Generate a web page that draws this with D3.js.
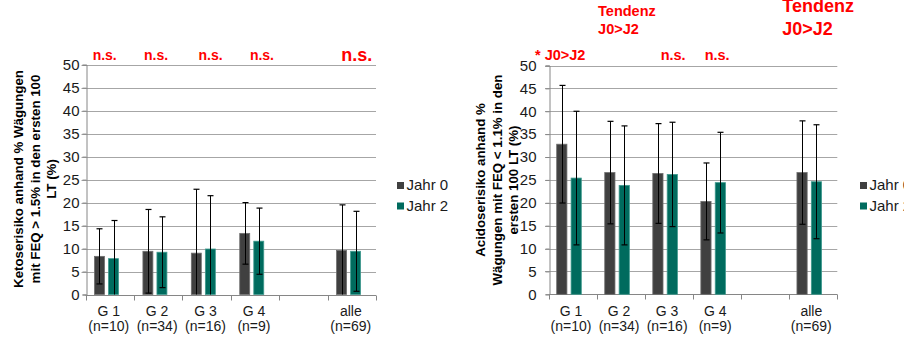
<!DOCTYPE html>
<html><head><meta charset="utf-8">
<script src="https://cdn.jsdelivr.net/npm/d3@7"></script>
<style>
html,body{margin:0;padding:0;background:#fff;}
svg{display:block;font-family:"Liberation Sans",Arial,sans-serif;}
</style></head>
<body><svg id="c" width="904" height="337"></svg>
<script>
// ---- data ----
const categories = ["G 1","G 2","G 3","G 4","","alle"];
const nLabels = ["(n=10)","(n=34)","(n=16)","(n=9)","","(n=69)"];
const seriesNames = ["Jahr 0","Jahr 2"];
const yTicks = [0,5,10,15,20,25,30,35,40,45,50];

// Ketose chart (left)
const ketoJahr0 = [8.3, 9.4, 9.0, 13.3, null, 9.6];
const ketoJahr0Err = [6.0, 9.1, 13.9, 6.7, null, 9.9];
const ketoJahr2 = [7.8, 9.2, 9.9, 11.6, null, 9.4];
const ketoJahr2Err = [8.3, 7.7, 11.6, 7.2, null, 8.7];
const ketoTitle = ["Ketoserisiko anhand % Wägungen","mit FEQ > 1.5% in den ersten 100","LT (%)"];
const ketoNotes = [["n.s."],["n.s."],["n.s."],["n.s."],null,["n.s."]];

// Acidose chart (right)
const acidJahr0 = [32.8, 26.6, 26.4, 20.3, null, 26.6];
const acidJahr0Err = [12.85, 11.2, 10.9, 8.4, null, 11.3];
const acidJahr2 = [25.4, 23.8, 26.2, 24.4, null, 24.6];
const acidJahr2Err = [14.6, 13.0, 11.4, 11.0, null, 12.45];
const acidTitle = ["Acidoserisiko anhand %","Wägungen mit FEQ < 1.1% in den","ersten 100 LT (%)"];
const acidNotes = [["* J0>J2"],["Tendenz","J0>J2"],["n.s."],["n.s."],null,["Tendenz","J0>J2"]];

const colors = ["#404040","#006b5e"];
const strokes = ["#6e6e6e","#3f9a8e"];

const svg = d3.select("#c");

function drawChart(cfg){
  const g = svg.append("g");
  const x = d3.scaleBand().domain(categories).range(cfg.xr).paddingInner(0).paddingOuter(0);
  const xs = d3.scaleBand().domain(seriesNames).range(cfg.inner).paddingInner(0.29).paddingOuter(0);
  const y = d3.scaleLinear().domain([0,50]).range(cfg.yr);

  // gridlines
  g.selectAll("line.grid").data(yTicks.filter(t=>t>0)).join("line")
    .attr("x1",cfg.xr[0]-cfg.tick).attr("x2",cfg.xr[1])
    .attr("y1",d=>Math.round(y(d))+0.5).attr("y2",d=>Math.round(y(d))+0.5)
    .attr("stroke","#a6a6a6").attr("stroke-width",1.2);

  // y axis
  const ya = g.append("g").attr("transform",`translate(${Math.round(cfg.xr[0])+0.5},0)`)
    .call(d3.axisLeft(y).tickValues(yTicks).tickSize(cfg.tick).tickPadding(cfg.pad));
  ya.select(".domain").attr("stroke","#868686");
  ya.selectAll(".tick line").attr("stroke","#868686");
  ya.selectAll(".tick text").attr("font-size",cfg.tickFont).attr("fill","#1a1a1a")
    .attr("font-family","Liberation Sans, Arial, sans-serif");

  // x axis line + boundary ticks
  const y0 = Math.round(y(0))+0.5;
  g.append("line").attr("x1",cfg.xr[0]).attr("x2",cfg.xr[1]).attr("y1",y0).attr("y2",y0)
    .attr("stroke","#868686").attr("stroke-width",1.2);
  const bounds = categories.map(c=>x(c)).concat([cfg.xr[1]]);
  g.selectAll("line.xt").data(bounds).join("line")
    .attr("x1",d=>Math.round(d)+0.5).attr("x2",d=>Math.round(d)+0.5)
    .attr("y1",y0).attr("y2",y0+5).attr("stroke","#868686");

  // x labels
  const xl = g.selectAll("text.xl").data(categories).join("text")
    .attr("text-anchor","middle").attr("font-size",14).attr("fill","#1a1a1a");
  xl.append("tspan").attr("x",(d)=>x(d)+x.bandwidth()/2+cfg.labDx).attr("y",316).text(d=>d);
  xl.append("tspan").attr("x",(d)=>x(d)+x.bandwidth()/2+cfg.labDx).attr("y",331).text((d,i)=>nLabels[i]);

  // bars
  const vals = [cfg.s0, cfg.s1], errs = [cfg.e0, cfg.e1];
  seriesNames.forEach((s,si)=>{
    const data = categories.map((c,i)=>({c, v:vals[si][i], e:errs[si][i]})).filter(d=>d.v!=null);
    g.selectAll(null).data(data).join("rect")
      .attr("x",d=>x(d.c)+xs(s)).attr("width",xs.bandwidth())
      .attr("y",d=>y(d.v)).attr("height",d=>y(0)-y(d.v))
      .attr("fill",colors[si]).attr("stroke",strokes[si]).attr("stroke-width",0.8);
    // error bars
    data.forEach(d=>{
      const cx = Math.round(x(d.c)+xs(s)+xs.bandwidth()/2)+0.5;
      const lo = Math.max(0,d.v-d.e), hi = d.v+d.e;
      g.append("line").attr("x1",cx).attr("x2",cx).attr("y1",y(lo)).attr("y2",y(hi))
        .attr("stroke","#000").attr("stroke-width",1);
      g.append("line").attr("x1",cx-3).attr("x2",cx+3).attr("y1",y(hi)).attr("y2",y(hi))
        .attr("stroke","#000").attr("stroke-width",1.2);
      if(d.v-d.e>0){
        g.append("line").attr("x1",cx-3).attr("x2",cx+3).attr("y1",y(lo)).attr("y2",y(lo))
          .attr("stroke","#000").attr("stroke-width",1.2);
      }
    });
  });

  // y title
  const tt = g.append("text").attr("transform",`translate(${cfg.titleX},${cfg.titleY}) rotate(-90)`)
    .attr("text-anchor","middle").attr("font-size",13.3).attr("font-weight","bold").attr("fill","#000");
  cfg.title.forEach((l,i)=>tt.append("tspan").attr("x",0).attr("y",i*16.5).text(l));

  // legend
  seriesNames.forEach((s,i)=>{
    g.append("rect").attr("x",cfg.legX).attr("y",182+i*20.5).attr("width",7).attr("height",7).attr("fill",colors[i]);
    g.append("text").attr("x",cfg.legX+9.5).attr("y",189.5+i*21.5).attr("font-size",15).attr("fill","#1a1a1a").text(s);
  });

  // annotations
  cfg.notes.forEach((n,i)=>{
    if(!n) return;
    const lay = cfg.noteLayout[i];
    const t = g.append("text").attr("font-weight","bold").attr("fill","#ff0000")
      .attr("font-size",lay.size).attr("text-anchor",lay.anchor||"middle");
    n.forEach((line,j)=>t.append("tspan").attr("x",x(categories[i])+x.bandwidth()/2+lay.dx)
      .attr("y",lay.y+j*(lay.lh||0)).text(line));
  });
}

drawChart({
  xr:[85.5,376], yr:[294.5,64.7], inner:[9,33], tick:4, pad:3, tickFont:15, labDx:-1,
  s0:ketoJahr0, e0:ketoJahr0Err, s1:ketoJahr2, e1:ketoJahr2Err,
  title:ketoTitle, titleX:23, titleY:179, legX:397, notes:ketoNotes,
  noteLayout:[{dx:-5,y:60,size:14},{dx:-2,y:60,size:14},{dx:4,y:60,size:14},{dx:7,y:60,size:14},null,{dx:5,y:61,size:18}]
});
drawChart({
  xr:[549,837.3], yr:[294.3,65.5], inner:[7.7,32.3], tick:4, pad:9, tickFont:15, labDx:-2,
  s0:acidJahr0, e0:acidJahr0Err, s1:acidJahr2, e1:acidJahr2Err,
  title:acidTitle, titleX:485, titleY:180, legX:860, notes:acidNotes,
  noteLayout:[{dx:-38,y:60,size:14.5,anchor:"start"},{dx:-23,y:16,size:14.5,lh:18,anchor:"start"},{dx:4,y:60,size:14.5},{dx:0,y:60,size:14.5},null,{dx:-31,y:12,size:18,lh:23,anchor:"start"}]
});
</script></body></html>
